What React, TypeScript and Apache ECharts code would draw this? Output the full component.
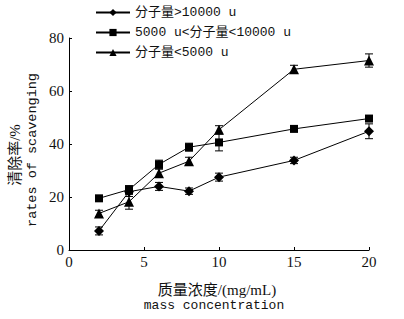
import React, { useEffect, useRef } from "react";
import * as echarts from "echarts";

const concentrations = [2, 4, 6, 8, 10, 15, 20];
const seriesNames = ["分子量>10000 u", "5000 u<分子量<10000 u", "分子量<5000 u"];
const highMw = [7.2, 22, 24, 22.2, 27.5, 33.8, 44.8];
const highMwErr = [1.5, 1.8, 1.5, 1.2, 1.5, 1.2, 2.8];
const midMw = [19.5, 22.8, 32.3, 38.8, 40.6, 45.7, 49.6];
const midMwErr = [0.8, 1.5, 1.6, 1.5, 3.2, 1.0, 1.0];
const lowMw = [13.8, 18.2, 29, 33.5, 45.4, 68.2, 71.5];
const lowMwErr = [1.2, 2.8, 1.5, 1.5, 1.5, 1.5, 2.5];
const yTicks = [0, 20, 40, 60, 80];
const xTicks = [0, 5, 10, 15, 20];

const FONT = "'Liberation Serif', 'Noto Sans CJK SC', serif";
const MONO = "'Liberation Mono', 'Noto Sans CJK SC', monospace";

function errData(vals: number[], errs: number[]) {
  return concentrations.map((x, i) => [x, vals[i] - errs[i], vals[i] + errs[i]]);
}

function errSeries(vals: number[], errs: number[]) {
  return {
    type: "custom",
    silent: true,
    z: 1,
    data: errData(vals, errs),
    renderItem: (params: any, api: any) => {
      const x = api.value(0);
      const lo = api.coord([x, api.value(1)]);
      const hi = api.coord([x, api.value(2)]);
      const w = 4;
      const st = { stroke: "#000", lineWidth: 1 };
      return {
        type: "group",
        children: [
          { type: "line", shape: { x1: lo[0], y1: lo[1], x2: hi[0], y2: hi[1] }, style: st },
          { type: "line", shape: { x1: lo[0] - w, y1: lo[1], x2: lo[0] + w, y2: lo[1] }, style: st },
          { type: "line", shape: { x1: hi[0] - w, y1: hi[1], x2: hi[0] + w, y2: hi[1] }, style: st },
        ],
      };
    },
  };
}

function lineSeries(name: string, vals: number[], symbol: string, size: number) {
  return {
    type: "line",
    name,
    data: concentrations.map((x, i) => [x, vals[i]]),
    symbol,
    symbolSize: size,
    showAllSymbol: true,
    lineStyle: { color: "#000", width: 1 },
    itemStyle: { color: "#000" },
    z: 3,
  };
}

export default function App() {
  const ref = useRef<HTMLDivElement>(null);
  useEffect(() => {
    const chart = echarts.init(ref.current!, null, { renderer: "svg" });
    chart.setOption({
      animation: false,
      backgroundColor: "#fff",
      grid: { left: 69, right: 35, top: 38, bottom: 69 },
      legend: {
        orient: "vertical",
        left: 95,
        top: 6,
        padding: 0,
        itemWidth: 34,
        itemHeight: 9,
        itemGap: 7,
        data: seriesNames,
        textStyle: { fontFamily: MONO, fontSize: 13, color: "#111" },
      },
      xAxis: {
        type: "value",
        min: 0,
        max: 20,
        interval: 5,
        axisLine: { lineStyle: { color: "#000", width: 1 } },
        axisTick: { show: true, inside: true, length: 3, lineStyle: { color: "#000" } },
        splitLine: { show: false },
        axisLabel: {
          color: "#111",
          fontFamily: FONT,
          fontSize: 15,
          margin: 4,
          formatter: (v: number) => (xTicks.includes(v) ? String(v) : ""),
        },
      },
      yAxis: {
        type: "value",
        min: 0,
        max: 80,
        interval: 20,
        axisLine: { show: true, lineStyle: { color: "#000", width: 1 } },
        axisTick: { show: true, inside: true, length: 3, lineStyle: { color: "#000" } },
        splitLine: { show: false },
        axisLabel: {
          color: "#111",
          fontFamily: FONT,
          fontSize: 15,
          margin: 5,
          formatter: (v: number) => (yTicks.includes(v) ? String(v) : ""),
        },
      },
      graphic: [
        {
          type: "text",
          x: 15,
          y: 155,
          rotation: Math.PI / 2,
          style: { text: "清除率/%", font: "15px " + FONT, fill: "#111", align: "center", verticalAlign: "middle" },
        },
        {
          type: "text",
          x: 32,
          y: 150,
          rotation: Math.PI / 2,
          style: { text: "rates of scavenging", font: "13.5px " + MONO, fill: "#111", align: "center", verticalAlign: "middle" },
        },
        {
          type: "text",
          x: 217,
          y: 290,
          style: { text: "质量浓度/(mg/mL)", font: "15px " + FONT, fill: "#111", align: "center", verticalAlign: "middle" },
        },
        {
          type: "text",
          x: 214,
          y: 305,
          style: { text: "mass concentration", font: "13px " + MONO, fill: "#111", align: "center", verticalAlign: "middle" },
        },
      ],
      series: [
        errSeries(highMw, highMwErr),
        errSeries(midMw, midMwErr),
        errSeries(lowMw, lowMwErr),
        lineSeries(seriesNames[0], highMw, "diamond", 10),
        lineSeries(seriesNames[1], midMw, "rect", 8),
        lineSeries(seriesNames[2], lowMw, "triangle", 10),
      ],
    });
    return () => chart.dispose();
  }, []);
  return <div ref={ref} style={{ width: 404, height: 319, position: "absolute", left: 0, top: 0 }} />;
}
